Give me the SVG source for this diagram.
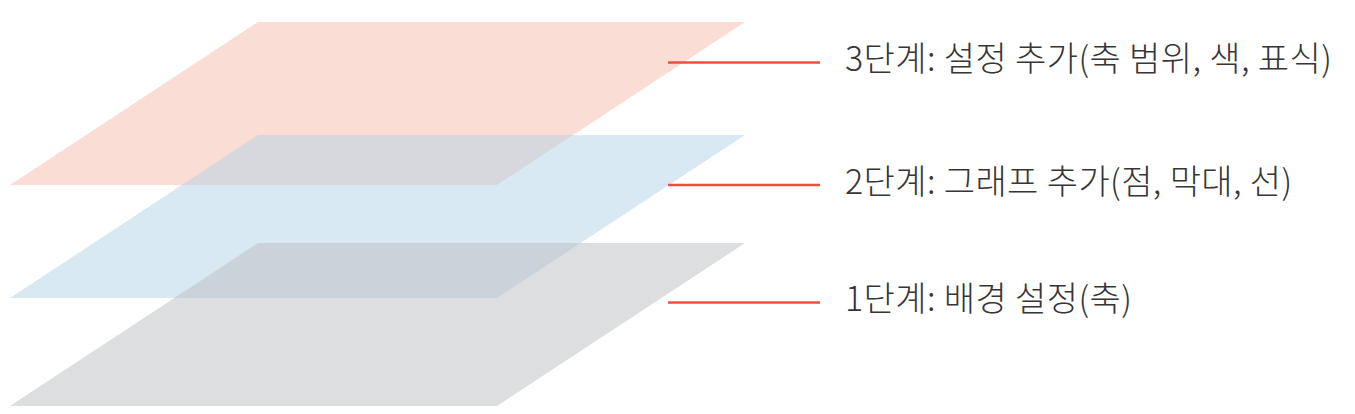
<svg xmlns="http://www.w3.org/2000/svg" width="1355" height="414" viewBox="0 0 1355 414">
<style>
.lbl{font-family:"Noto Sans CJK KR","Noto Sans",sans-serif;font-size:34px;font-weight:300;letter-spacing:0.4px;fill:#363636}
.con{stroke:#EE4E3E;stroke-width:2.5;fill:none}
</style>
<rect width="1355" height="414" fill="#ffffff"/>
<g id="layer3"><polygon points="258,22 745,22 497,185 10,185" fill="#FADDD4"/></g>
<g id="layer2"><polygon points="258,135 745,135 497,298 10,298" fill="rgb(177,211,231)" fill-opacity="0.5"/></g>
<g id="layer1"><polygon points="258,243 745,243 497,406 10,406" fill="rgb(187,189,193)" fill-opacity="0.5"/></g>
<g id="connectors">
<line class="con" x1="668" y1="62.5" x2="820" y2="62.5"/>
<line class="con" x1="668" y1="185" x2="820" y2="185"/>
<line class="con" x1="668" y1="302.5" x2="820" y2="302.5"/>
</g>
<g id="label3"><text class="lbl" x="845" y="71">3단계: 설정 추가(축 범위, 색, 표식)</text></g>
<g id="label2"><text class="lbl" x="845" y="193.5">2단계: 그래프 추가(점, 막대, 선)</text></g>
<g id="label1"><text class="lbl" x="845" y="311">1단계: 배경 설정(축)</text></g>
</svg>
